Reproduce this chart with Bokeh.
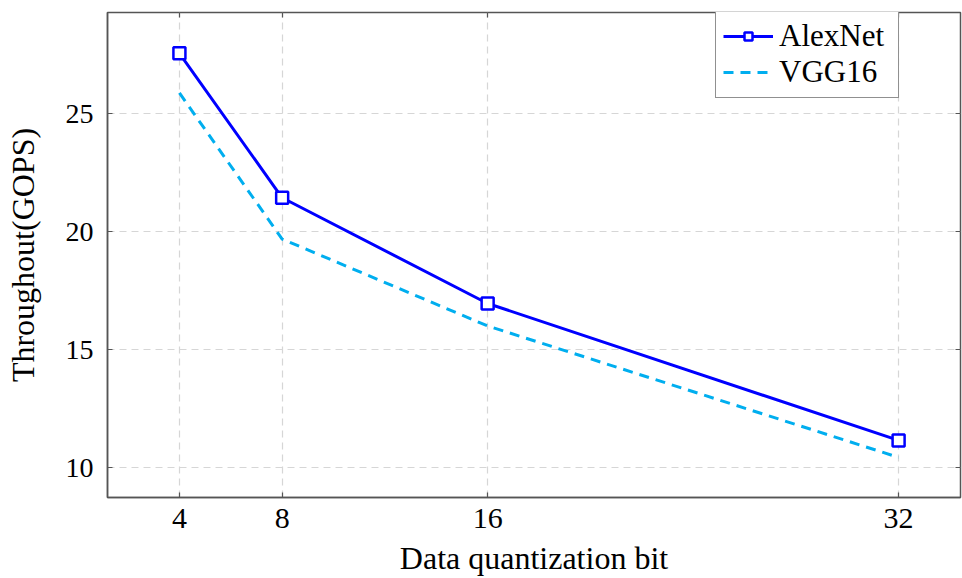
from bokeh.plotting import figure
from bokeh.models import Range1d, FixedTicker, LinearAxis
from bokeh.embed import file_html
from bokeh.resources import INLINE

# ---- data ----
bits = [4, 8, 16, 32]
alexnet = [27.57, 21.45, 16.97, 11.17]
vgg16 = [25.89, 19.70, 16.02, 10.45]
x_ticks = [4, 8, 16, 32]
y_ticks = [10, 15, 20, 25]

FONT = "Liberation Serif"
AXC = "#555555"

p = figure(width=962, height=578, output_backend="svg", toolbar_location=None,
           x_range=Range1d(1.2, 34.41), y_range=Range1d(8.75, 29.3),
           min_border_left=107, min_border_right=2, min_border_top=12, min_border_bottom=81)

p.outline_line_color = AXC
p.outline_line_width = 1.5
p.background_fill_color = "white"
p.border_fill_color = "white"

# axes
p.xaxis.ticker = FixedTicker(ticks=x_ticks)
p.yaxis.ticker = FixedTicker(ticks=y_ticks)
for ax in (p.xaxis[0], p.yaxis[0]):
    ax.axis_line_color = AXC
    ax.axis_line_width = 1.5
    ax.major_tick_line_color = AXC
    ax.major_tick_line_width = 1.2
    ax.major_tick_in = 5
    ax.major_tick_out = 0
    ax.minor_tick_line_color = None
    ax.major_label_text_font = FONT
    ax.major_label_text_color = "black"
    ax.axis_label_text_font = FONT
    ax.axis_label_text_font_size = "32px"
    ax.axis_label_text_font_style = "normal"
    ax.axis_label_text_color = "black"

p.xaxis.major_label_text_font_size = "30px"
p.yaxis.major_label_text_font_size = "28px"
p.xaxis.axis_label = "Data quantization bit"
p.yaxis.axis_label = "Throughout(GOPS)"
p.xaxis.major_label_standoff = 11
p.xaxis.axis_label_standoff = 9
p.yaxis.major_label_standoff = 14
p.yaxis.axis_label_standoff = 22

# top / right tick marks (no labels)
for loc, ticks in (("above", x_ticks), ("right", y_ticks)):
    ax = LinearAxis(ticker=FixedTicker(ticks=ticks))
    ax.axis_line_color = None
    ax.major_tick_line_color = AXC
    ax.major_tick_line_width = 1.2
    ax.major_tick_in = 5
    ax.major_tick_out = 0
    ax.minor_tick_line_color = None
    ax.major_label_text_font_size = "0px"
    ax.major_label_overrides = {t: "" for t in ticks}
    ax.major_label_standoff = 0
    p.add_layout(ax, loc)

# grid
p.xgrid.ticker = FixedTicker(ticks=x_ticks)
p.ygrid.ticker = FixedTicker(ticks=y_ticks)
for g in (p.xgrid[0], p.ygrid[0]):
    g.grid_line_color = "#d6d6d6"
    g.grid_line_dash = "7 5"
    g.grid_line_width = 1.2

# series
p.line(bits, vgg16, line_color="#00AEEF", line_width=3, line_dash="10 7",
       legend_label="VGG16")
p.line(bits, alexnet, line_color="#0000FF", line_width=3, legend_label="AlexNet")
p.scatter(bits, alexnet, marker="square", size=12, line_color="#0000FF",
          line_width=2.5, fill_color="white", legend_label="AlexNet")

lg = p.legend[0]
# reorder: AlexNet first
lg.items = [lg.items[1], lg.items[0]]
lg.location = (608, 399)
lg.label_text_font = FONT
lg.label_text_font_size = "31px"
lg.label_text_color = "black"
lg.glyph_width = 50
lg.label_standoff = 6
lg.label_width = 112
lg.padding = 7
lg.spacing = 0
lg.margin = 0
lg.border_line_color = "#222222"
lg.border_line_width = 1.2
lg.background_fill_alpha = 1.0
lg.click_policy = "none"

html = file_html(p, INLINE)
open("out.html", "w").write(html)
